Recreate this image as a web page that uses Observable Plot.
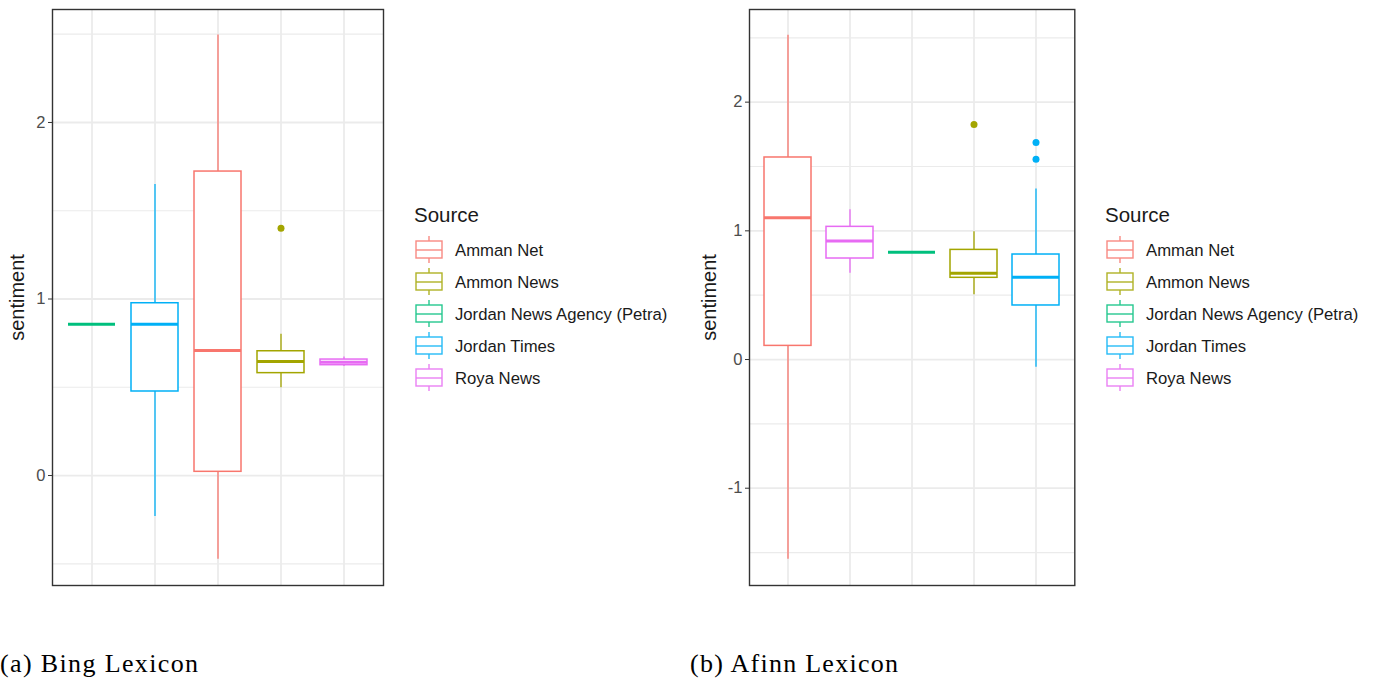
<!DOCTYPE html>
<html><head><meta charset="utf-8">
<script src="https://cdn.jsdelivr.net/npm/d3@7"></script>
<script src="https://cdn.jsdelivr.net/npm/@observablehq/plot@0.6"></script>
<style>
body{margin:0;background:#fff;}
#wrap{position:relative;width:1377px;height:681px;overflow:hidden;background:#fff;}
.pnl{position:absolute;top:0;}
.bp g[aria-label="y-axis label"] text{font-size:20px;fill:#1a1a1a;}
</style></head><body><div id="wrap"></div>
<script>
// ---- shared categories / colours ----
const sources = ["Amman Net","Ammon News","Jordan News Agency (Petra)","Jordan Times","Roya News"];
const colors  = ["#F8766D","#A3A500","#00BF7D","#00B0F6","#E76BF3"];
const legendTitle = "Source";
const yLabel = "sentiment";
const captions = ["(a) Bing Lexicon","(b) Afinn Lexicon"];

// ---- (a) Bing lexicon: box statistics, ordered as drawn ----
const bingOrder = ["Jordan News Agency (Petra)","Jordan Times","Amman Net","Ammon News","Roya News"];
const bingLow   = [0.857, -0.232, -0.474, 0.497, 0.618];
const bingQ1    = [0.857,  0.476,  0.021, 0.580, 0.625];
const bingMed   = [0.857,  0.857,  0.708, 0.646, 0.642];
const bingQ3    = [0.857,  0.976,  1.722, 0.704, 0.657];
const bingHigh  = [0.857,  1.649,  2.495, 0.800, 0.672];
const bingOutSource = ["Ammon News"];
const bingOutValue  = [1.401];
const bingMajor = [0, 1, 2];
const bingMinor = [-0.5, 0.5, 1.5, 2.5];
const bingDomain = [-0.623, 2.64];

// ---- (b) Afinn lexicon ----
const afinnOrder = ["Amman Net","Roya News","Jordan News Agency (Petra)","Ammon News","Jordan Times"];
const afinnLow   = [-1.552, 0.671, 0.834, 0.503, -0.060];
const afinnQ1    = [ 0.106, 0.785, 0.834, 0.635,  0.420];
const afinnMed   = [ 1.101, 0.922, 0.834, 0.671,  0.640];
const afinnQ3    = [ 1.570, 1.031, 0.834, 0.852,  0.816];
const afinnHigh  = [ 2.520, 1.163, 0.834, 0.992,  1.326];
const afinnOutSource = ["Ammon News","Jordan Times","Jordan Times"];
const afinnOutValue  = [1.826, 1.686, 1.556];
const afinnMajor = [-1, 0, 1, 2];
const afinnMinor = [-1.5, -0.5, 0.5, 1.5, 2.5];
const afinnDomain = [-1.756, 2.72];

function makePanel(cfg) {
  const stats = cfg.order.map((s, i) => ({source: s, lo: cfg.low[i], q1: cfg.q1[i], med: cfg.med[i], q3: cfg.q3[i], hi: cfg.high[i]}));
  const outliers = cfg.outSource.map((s, i) => ({source: s, value: cfg.outValue[i]}));
  return Plot.plot({
    width: cfg.width, height: 600,
    marginLeft: 52, marginRight: cfg.marginRight, marginTop: 9, marginBottom: 15,
    className: "bp",
    style: {fontFamily: "'Liberation Sans', Arial, sans-serif", fontSize: "16.5px", color: "#4D4D4D", background: "white", overflow: "visible"},
    x: {type: "band", domain: cfg.order, paddingInner: 0.25, paddingOuter: 0.225, axis: null},
    y: {domain: cfg.domain, axis: null},
    color: {domain: sources, range: colors},
    marks: [
      Plot.ruleY(cfg.minor, {stroke: "#EBEBEB", strokeWidth: 1.2}),
      Plot.ruleY(cfg.major, {stroke: "#EBEBEB", strokeWidth: 1.8}),
      Plot.ruleX(cfg.order, {stroke: "#EBEBEB", strokeWidth: 1.8}),
      Plot.ruleX(stats, {x: "source", y1: "q3", y2: "hi", stroke: "source", strokeWidth: 1.3}),
      Plot.ruleX(stats, {x: "source", y1: "lo", y2: "q1", stroke: "source", strokeWidth: 1.3}),
      Plot.barY(stats, {x: "source", y1: "q1", y2: "q3", fill: "white", stroke: "source", strokeWidth: 1.5, inset: 0}),
      Plot.tickY(stats, {x: "source", y: "med", stroke: "source", strokeWidth: 3}),
      Plot.dot(outliers, {x: "source", y: "value", fill: "source", r: 3.5}),
      Plot.frame({stroke: "#333", strokeWidth: 1.4}),
      Plot.axisY({ticks: cfg.major, tickSize: 4, tickPadding: 3, stroke: "#333", fill: "#4D4D4D",
        tickFormat: d => String(d), label: yLabel, labelAnchor: "center", labelArrow: "none", labelOffset: cfg.labelOffset})
    ]
  });
}

const wrap = document.getElementById("wrap");
const left = makePanel({order: bingOrder, low: bingLow, q1: bingQ1, med: bingMed, q3: bingQ3, high: bingHigh,
  outSource: bingOutSource, outValue: bingOutValue, major: bingMajor, minor: bingMinor, domain: bingDomain,
  width: 395, marginRight: 12, labelOffset: 43});
const right = makePanel({order: afinnOrder, low: afinnLow, q1: afinnQ1, med: afinnMed, q3: afinnQ3, high: afinnHigh,
  outSource: afinnOutSource, outValue: afinnOutValue, major: afinnMajor, minor: afinnMinor, domain: afinnDomain,
  width: 390, marginRight: 12.7, labelOffset: 48});
const d1 = document.createElement("div"); d1.className = "pnl"; d1.style.left = "0px"; d1.appendChild(left); wrap.appendChild(d1);
const d2 = document.createElement("div"); d2.className = "pnl"; d2.style.left = "697px"; d2.appendChild(right); wrap.appendChild(d2);

// ---- legends and captions ----
const ov = d3.select("#wrap").append("svg").attr("width", 1377).attr("height", 681)
  .style("position", "absolute").style("left", 0).style("top", 0).style("pointer-events", "none")
  .attr("font-family", "'Liberation Sans', Arial, sans-serif");

function legend(x0) {
  const g = ov.append("g");
  g.append("text").attr("x", x0 - 2).attr("y", 222).attr("font-size", 20.5).attr("fill", "#1a1a1a").text(legendTitle);
  sources.forEach((s, i) => {
    const cy = 250 + i * 32;
    const c = colors[i];
    const k = g.append("g").attr("stroke", c).attr("stroke-width", 1.4).attr("fill", "none").attr("opacity", 0.85);
    k.append("line").attr("x1", x0 + 13).attr("x2", x0 + 13).attr("y1", cy - 14).attr("y2", cy - 9);
    k.append("line").attr("x1", x0 + 13).attr("x2", x0 + 13).attr("y1", cy + 8).attr("y2", cy + 13);
    k.append("rect").attr("x", x0).attr("y", cy - 9).attr("width", 26).attr("height", 17);
    k.append("line").attr("x1", x0).attr("x2", x0 + 26).attr("y1", cy).attr("y2", cy);
    g.append("text").attr("x", x0 + 39).attr("y", cy + 6).attr("font-size", 16.7).attr("fill", "#1a1a1a").text(s);
  });
}
legend(416);
legend(1107);

ov.append("text").attr("x", 0).attr("y", 672).attr("font-family", "'Liberation Serif', 'Times New Roman', serif")
  .attr("font-size", 26).attr("fill", "#000").attr("textLength", 198).attr("lengthAdjust", "spacing").text(captions[0]);
ov.append("text").attr("x", 690).attr("y", 672).attr("font-family", "'Liberation Serif', 'Times New Roman', serif")
  .attr("font-size", 26).attr("fill", "#000").attr("textLength", 208).attr("lengthAdjust", "spacing").text(captions[1]);
</script></body></html>
